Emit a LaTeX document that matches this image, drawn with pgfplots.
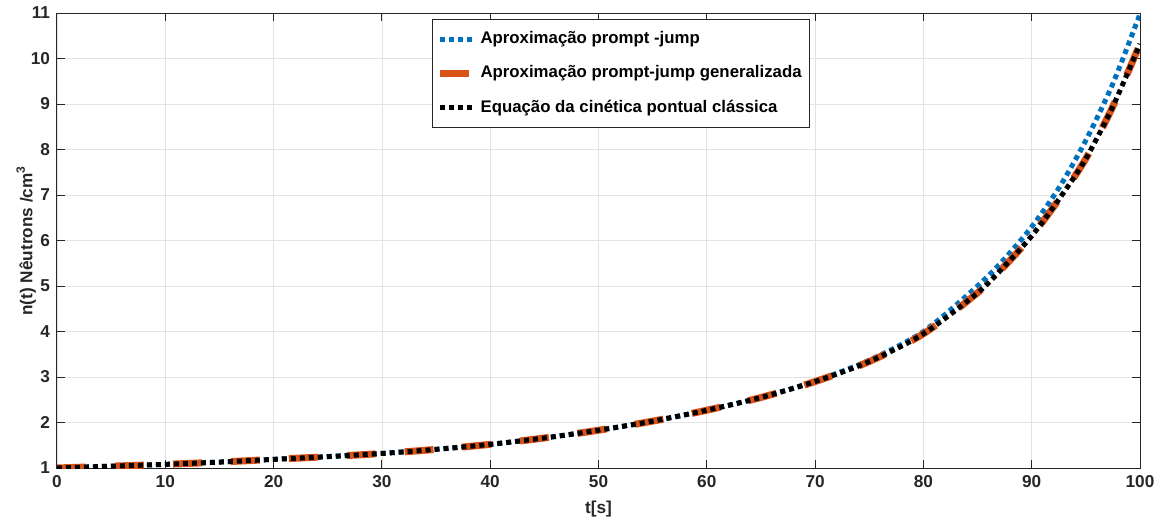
\documentclass[border=0pt]{standalone}
\usepackage{pgfplots}
\pgfplotsset{compat=1.18}
\usepackage{fontspec}
\setmainfont{Liberation Sans}
\definecolor{mblue}{rgb}{0,0.447,0.741}
\definecolor{morange}{rgb}{0.85,0.325,0.098}
\definecolor{axgray}{rgb}{0.15,0.15,0.15}
\begin{document}
\begin{tikzpicture}
\useasboundingbox (-28.5pt,-26.5pt) rectangle (550.5pt,234pt);
\begin{axis}[
  scale only axis, width=541.5pt, height=227.5pt,
  at={(0,0)}, anchor=south west,
  xmin=0, xmax=100, ymin=1, ymax=11,
  xtick={0,10,...,100}, ytick={1,2,...,11},
  grid=major, major grid style={gray!22, line width=0.4pt},
  axis line style={axgray, line width=0.5pt},
  tick style={axgray, line width=0.5pt}, tick align=inside,
  major tick length=4pt,
  xtick pos=both, ytick pos=both,
  /pgf/number format/assume math mode=true,
  ticklabel style={font=\fontsize{8.6}{10.5}\selectfont\bfseries, text=axgray},
  xlabel={t[s]}, ylabel={n(t) Nêutrons /cm\textsuperscript{3}},
  label style={font=\fontsize{8.6}{10.5}\selectfont\bfseries, text=axgray},
  xlabel style={yshift=0pt},
  ylabel style={yshift=-9.5pt},
  legend style={at={(0.3463,0.987)}, anchor=north west,
    font=\fontsize{8.4}{10}\selectfont\bfseries, draw=axgray, line width=0.5pt,
    row sep=5.5pt, inner xsep=2pt, inner ysep=4pt, cells={anchor=west}},
  legend cell align=left,
  legend image code/.code={\draw[#1] (0pt,0pt) -- (16.5pt,0pt);},
]
\addplot[mblue, line width=2.5pt, dash pattern=on 2.5pt off 2pt, smooth] coordinates {
(0,1.00) (5,1.04) (10,1.08) (15,1.13) (20,1.19) (25,1.25) (30,1.32) (35,1.41)
(40,1.52) (45,1.66) (50,1.83) (55,2.03) (60,2.27) (65,2.55) (70,2.91) (75,3.37)
(80,4.00) (85,5.00) (87.5,5.60) (90,6.30) (92.5,7.15) (95,8.20) (97.5,9.45) (100,10.98)};
\addlegendentry{Aproximação prompt -jump}
\addplot[morange, line width=3.5pt, dash pattern=on 14.5pt off 14.5pt, smooth] coordinates {
(0,1.00) (5,1.04) (10,1.08) (15,1.13) (20,1.19) (25,1.25) (30,1.32) (35,1.41)
(40,1.52) (45,1.66) (50,1.83) (55,2.03) (60,2.27) (65,2.55) (70,2.90) (75,3.34)
(80,3.95) (85,4.85) (87.5,5.44) (90,6.10) (92.5,6.90) (95,7.80) (97.5,8.95) (100,10.32)};
\addlegendentry{Aproximação prompt-jump generalizada}
\addplot[black, line width=2.5pt, dash pattern=on 2.5pt off 2pt, smooth] coordinates {
(0,1.00) (5,1.04) (10,1.08) (15,1.13) (20,1.19) (25,1.25) (30,1.32) (35,1.41)
(40,1.52) (45,1.66) (50,1.83) (55,2.03) (60,2.27) (65,2.55) (70,2.90) (75,3.34)
(80,3.95) (85,4.85) (87.5,5.44) (90,6.10) (92.5,6.90) (95,7.80) (97.5,8.95) (100,10.32)};
\addlegendentry{Equação da cinética pontual clássica}
\end{axis}
\end{tikzpicture}
\end{document}
